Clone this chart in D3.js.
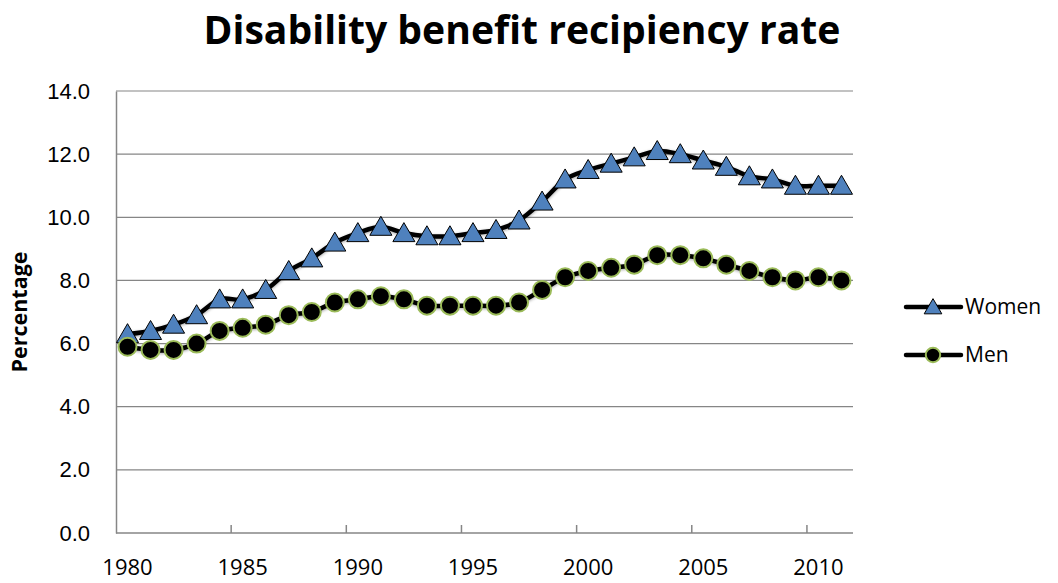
<!DOCTYPE html>
<html>
<head>
<meta charset="utf-8">
<script src="https://cdn.jsdelivr.net/npm/d3@7"></script>
<style>
  body { margin: 0; background: #fff; }
  svg { display: block; font-family: "Open Sans", sans-serif; }
</style>
</head>
<body>
<div id="chart"></div>
<script>
// data
const years = d3.range(1980, 2012);
const women = [6.3, 6.4, 6.6, 6.9, 7.4, 7.4, 7.7, 8.3, 8.7, 9.2, 9.5, 9.7, 9.5, 9.4, 9.4, 9.5,
               9.6, 9.9, 10.5, 11.2, 11.5, 11.7, 11.9, 12.1, 12.0, 11.8, 11.6, 11.3, 11.2, 11.0, 11.0, 11.0];
const men = [5.9, 5.8, 5.8, 6.0, 6.4, 6.5, 6.6, 6.9, 7.0, 7.3, 7.4, 7.5, 7.4, 7.2, 7.2, 7.2,
             7.2, 7.3, 7.7, 8.1, 8.3, 8.4, 8.5, 8.8, 8.8, 8.7, 8.5, 8.3, 8.1, 8.0, 8.1, 8.0];
const yTicks = [0, 2, 4, 6, 8, 10, 12, 14];
const xLabels = [1980, 1985, 1990, 1995, 2000, 2005, 2010];

const width = 1058, height = 583;
const plot = { left: 116, right: 853, top: 91, bottom: 533 };

const svg = d3.select("#chart").append("svg")
  .attr("width", width)
  .attr("height", height);

// soft shadow like the Excel series lines
const defs = svg.append("defs");
defs.append("filter").attr("id", "shadow")
  .attr("x", "-5%").attr("y", "-20%").attr("width", "110%").attr("height", "140%")
  .append("feDropShadow")
  .attr("dx", 0).attr("dy", 1).attr("stdDeviation", 1.5)
  .attr("flood-color", "#000").attr("flood-opacity", 0.35);

const x = d3.scaleBand().domain(years).range([plot.left, plot.right]);
const cx = d => x(d) + x.bandwidth() / 2;
const y = d3.scaleLinear().domain([0, 14]).range([plot.bottom, plot.top]);

// gridlines
svg.append("g")
  .selectAll("line")
  .data(yTicks.filter(t => t > 0))
  .enter().append("line")
  .attr("x1", plot.left).attr("x2", plot.right)
  .attr("y1", d => y(d)).attr("y2", d => y(d))
  .attr("stroke", "#868686").attr("stroke-width", 1.2);

// y axis
const yAxis = svg.append("g")
  .attr("transform", `translate(${plot.left},0)`)
  .call(d3.axisLeft(y).tickValues(yTicks).tickFormat(d3.format(".1f")).tickSize(0).tickPadding(26));
yAxis.select(".domain").attr("stroke", "#868686").attr("stroke-width", 1.5);
yAxis.selectAll("text").style("font-size", "22px").attr("fill", "#000");

// x axis: ticks at category boundaries every 5 years, labels at category centres
const xg = svg.append("g").attr("transform", `translate(0,${plot.bottom})`);
xg.append("line")
  .attr("x1", plot.left).attr("x2", plot.right)
  .attr("stroke", "#868686").attr("stroke-width", 1.5);
xg.selectAll(".tick")
  .data(xLabels.filter(d => d > 1980))
  .enter().append("line")
  .attr("class", "tick")
  .attr("x1", d => x(d)).attr("x2", d => x(d))
  .attr("y1", 0).attr("y2", -8)
  .attr("stroke", "#868686").attr("stroke-width", 1.5);
xg.selectAll("text")
  .data(xLabels)
  .enter().append("text")
  .attr("x", d => cx(d))
  .attr("y", 42)
  .attr("text-anchor", "middle")
  .style("font-size", "22px")
  .text(d => d);

// title
const title = svg.append("text")
  .attr("x", 522).attr("y", 44)
  .attr("text-anchor", "middle")
  .style("font-weight", "bold")
  .style("font-size", "36px")
  .text("Disability benefit recipiency rate");
fitWidth(title, 637);

// y label
const ylab = svg.append("text")
  .attr("transform", `translate(27,${(plot.top + plot.bottom) / 2}) rotate(-90)`)
  .attr("text-anchor", "middle")
  .style("font-weight", "bold")
  .style("font-size", "17px")
  .text("Percentage");
fitWidth(ylab, 121);

function fitWidth(sel, target) {
  const fs = parseFloat(sel.style("font-size"));
  const w = sel.node().getComputedTextLength();
  sel.style("font-size", (fs * target / w) + "px");
}

const line = d3.line()
  .x((d, i) => cx(years[i]))
  .y(d => y(d))
  .curve(d3.curveCatmullRom.alpha(0));

const tri = s => `M0,${-s * 0.55}L${s * 0.58},${s * 0.45}L${-s * 0.58},${s * 0.45}Z`;

function drawSeries(values, marker) {
  svg.append("path")
    .datum(values)
    .attr("d", line)
    .attr("fill", "none")
    .attr("stroke", "#000")
    .attr("stroke-width", 4.5)
    .attr("filter", "url(#shadow)");
  const g = svg.append("g");
  values.forEach((v, i) => marker(g, cx(years[i]), y(v), 1));
}

function triangleMarker(g, px, py, k) {
  g.append("path")
    .attr("d", tri(19 * k))
    .attr("transform", `translate(${px},${py})`)
    .attr("fill", "#4F81BD")
    .attr("stroke", "#000")
    .attr("stroke-width", 1);
}

function circleMarker(g, px, py, k) {
  g.append("circle")
    .attr("cx", px).attr("cy", py)
    .attr("r", 9 * k)
    .attr("fill", "#000")
    .attr("stroke", "#9BBB59")
    .attr("stroke-width", 2);
}

drawSeries(women, triangleMarker);
drawSeries(men, circleMarker);

// legend
const legend = [
  { name: "Women", marker: triangleMarker, y: 307 },
  { name: "Men", marker: circleMarker, y: 355 }
];
legend.forEach(l => {
  const g = svg.append("g");
  g.append("line")
    .attr("x1", 906).attr("x2", 961)
    .attr("y1", l.y).attr("y2", l.y)
    .attr("stroke", "#000").attr("stroke-width", 4.5)
    .attr("stroke-linecap", "round");
  l.marker(g, 933, l.y, 0.8);
  g.append("text")
    .attr("x", 965).attr("y", l.y)
    .attr("dy", "0.35em")
    .style("font-size", "21px")
    .text(l.name);
});
</script>
</body>
</html>
